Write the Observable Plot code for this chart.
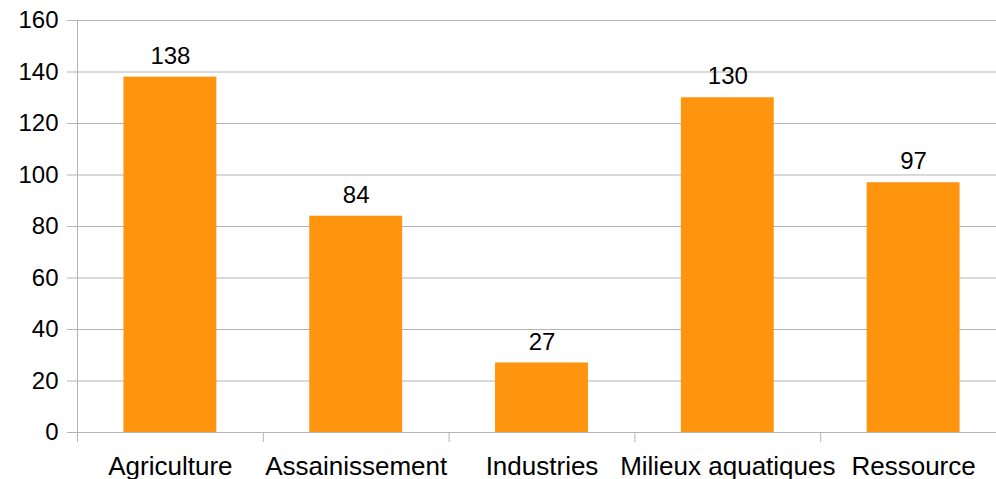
<!DOCTYPE html>
<html>
<head>
<meta charset="utf-8">
<script src="https://cdn.jsdelivr.net/npm/d3@7"></script>
<script src="https://cdn.jsdelivr.net/npm/@observablehq/plot@0.6"></script>
<style>
  html, body { margin: 0; padding: 0; background: #fff; overflow: hidden; }
  svg { overflow: visible; }
</style>
</head>
<body>
<div id="chart"></div>
<script>
const categories = ["Agriculture", "Assainissement", "Industries", "Milieux aquatiques", "Ressource"];
const values = [138, 84, 27, 130, 97];
const yTicks = [0, 20, 40, 60, 80, 100, 120, 140, 160];

const data = categories.map((c, i) => ({category: c, value: values[i]}));

const W = 996, H = 479;
const left = 77, right = 1006; // plot band range (last band is cut by the window)
const bandW = (right - left) / categories.length;

const chart = Plot.plot({
  width: W,
  height: H,
  marginLeft: left,
  marginRight: 0,
  marginTop: 20,
  marginBottom: 47,
  style: {fontFamily: "'Liberation Sans', Arial, sans-serif", fontSize: "24px", color: "#000", background: "#fff", overflow: "visible"},
  x: {domain: categories, range: [left, right], paddingInner: 0.5, paddingOuter: 0.25, align: 0.5, round: false},
  y: {domain: [0, 160]},
  marks: [
    Plot.gridY(yTicks, {stroke: "#b3b3b3", strokeOpacity: 1, insetLeft: -10}),
    Plot.frame({anchor: "left", stroke: "#b3b3b3"}),
    Plot.ruleX(categories, {x: d => d, dx: -bandW / 2, y1: 0, y2: 0, insetBottom: -10, stroke: "#b3b3b3"}),
    Plot.barY(data, {x: "category", y: "value", fill: "#ff950e"}),
    Plot.text(data, {x: "category", y: "value", text: d => String(d.value), dy: -21, fontSize: 24, fill: "#000"}),
    Plot.axisY(yTicks, {tickSize: 0, tickPadding: 19, fontSize: 24, label: null, fill: "#000"}),
    Plot.axisX({tickSize: 0, tickPadding: 24, fontSize: 26, label: null, fill: "#000"})
  ]
});
document.getElementById("chart").appendChild(chart);
</script>
</body>
</html>
